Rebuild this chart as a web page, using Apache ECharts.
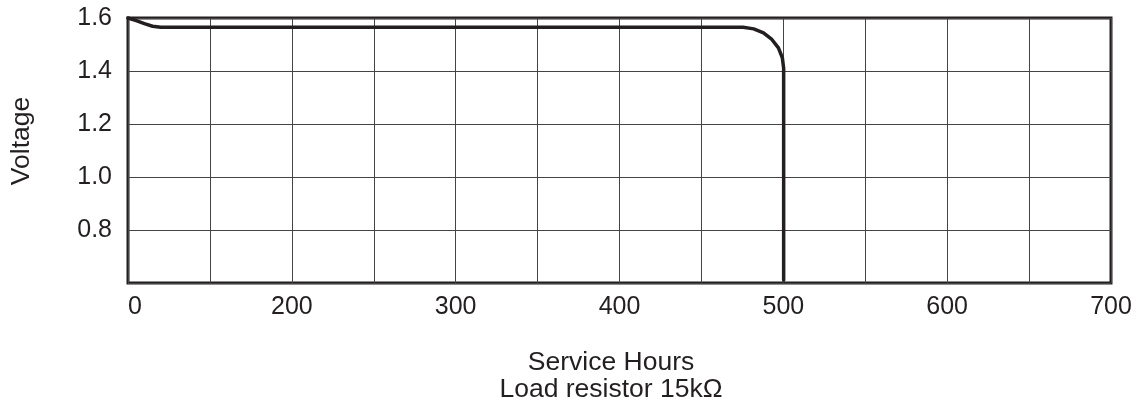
<!DOCTYPE html>
<html>
<head>
<meta charset="utf-8">
<script src="https://cdn.jsdelivr.net/npm/echarts@6/dist/echarts.min.js"></script>
<style>
  html, body { margin: 0; padding: 0; background: #fff; }
  #chart { width: 1141px; height: 411px; }
</style>
</head>
<body>
<div id="chart"></div>
<script>
// x positions on the axis (left edge is labelled "0", the next major line "200")
const hours = [100, 105, 110, 115, 120, 475.5, 481.9, 487.9, 493, 497, 499.4, 500.2, 500.2];
const volts = [1.6, 1.59, 1.579, 1.569, 1.565, 1.565, 1.559, 1.544, 1.519, 1.487, 1.45, 1.41, 0.61];

const xTickValues = [100, 200, 300, 400, 500, 600, 700];
const xTickLabels = ['0', '200', '300', '400', '500', '600', '700'];
const yTickLabels = ['0.8', '1.0', '1.2', '1.4', '1.6'];

const ink = '#231f20';
const font = '"Liberation Sans", Arial, sans-serif';

const chart = echarts.init(document.getElementById('chart'));

function xLabel(v) {
    const i = xTickValues.indexOf(v);
    return i >= 0 ? xTickLabels[i] : '';
}

function yLabel(v) {
    const s = v.toFixed(1);
    return yTickLabels.includes(s) ? s : '';
}

function label(text, x, y, rotation) {
    return {
        type: 'text',
        x: x,
        y: y,
        rotation: rotation || 0,
        style: {
            text: text,
            align: 'center',
            verticalAlign: 'middle',
            fill: ink,
            font: '26.5px ' + font
        }
    };
}

chart.setOption({
    animation: false,
    grid: {
        left: 128,
        right: 30,
        top: 18,
        bottom: 128,
        show: true,
        borderColor: ink,
        borderWidth: 3
    },
    xAxis: {
        type: 'value',
        min: 100,
        max: 700,
        interval: 50,
        axisLine: { show: false },
        axisTick: { show: false },
        splitLine: { show: true, lineStyle: { color: '#444', width: 1 } },
        axisLabel: {
            formatter: xLabel,
            margin: 12,
            color: ink,
            fontFamily: font,
            fontSize: 25,
            alignMinLabel: 'left',
            showMinLabel: true,
            showMaxLabel: true
        }
    },
    yAxis: {
        type: 'value',
        min: 0.6,
        max: 1.6,
        interval: 0.2,
        axisLine: { show: false },
        axisTick: { show: false },
        splitLine: { show: true, lineStyle: { color: '#444', width: 1 } },
        axisLabel: {
            formatter: yLabel,
            margin: 16,
            color: ink,
            fontFamily: font,
            fontSize: 25
        }
    },
    graphic: [
        label('Voltage', 22, 141, Math.PI / 2),
        label('Service Hours', 611, 363),
        label('Load resistor 15kΩ', 611, 390)
    ],
    series: [{
        type: 'line',
        data: hours.map((h, i) => [h, volts[i]]),
        showSymbol: false,
        smooth: false,
        clip: false,
        lineStyle: { color: ink, width: 3.5, join: 'round', cap: 'round' }
    }]
});
</script>
</body>
</html>
